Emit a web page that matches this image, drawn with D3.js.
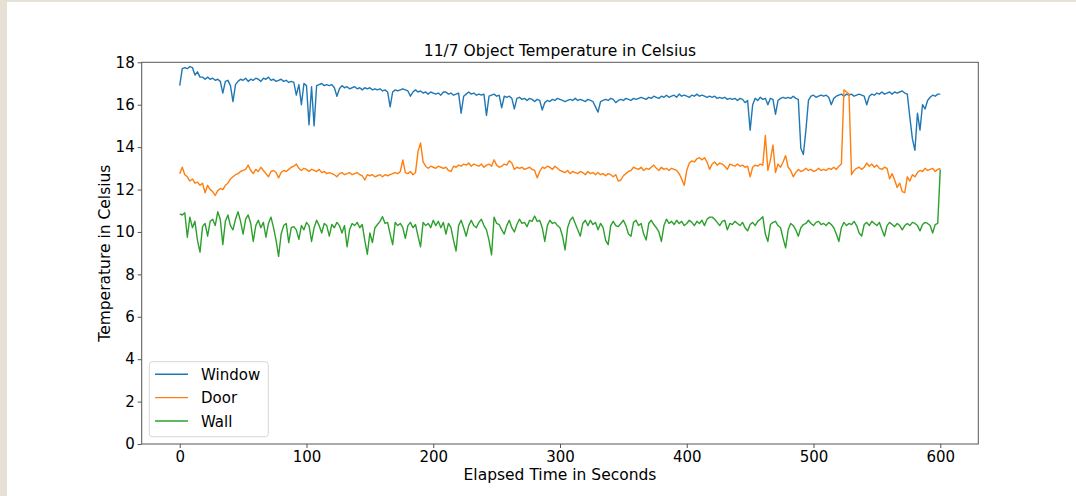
<!DOCTYPE html>
<html>
<head>
<meta charset="utf-8">
<script src="https://cdn.jsdelivr.net/npm/d3@7"></script>
<style>
  body { margin: 0; background: #fff; }
  text { font-family: "DejaVu Sans", sans-serif; fill: #000; }
</style>
</head>
<body>
<div id="chart"></div>
<script>
// sample times, one reading every 2 seconds
const seconds = d3.range(0, 601, 2);

// object temperature readings (deg C)
const windowTemp = [
  16.9, 17.7, 17.75, 17.7, 17.8, 17.75, 17.4, 17.55, 17.3, 17.3, 17.2, 17.3, 17.2, 17.25, 17.15,
  17.2, 17.1, 16.55, 17.1, 17.15, 16.9, 16.15, 16.95, 17.1, 17.2, 17.15, 17.25, 17.1, 17.2, 17.15,
  17.25, 17.2, 17.1, 17.25, 17.2, 17.3, 17.15, 17.2, 17.1, 17.15, 17.2, 17.1, 17.15, 17.05, 17.1,
  17.05, 16.45, 16.95, 16.0, 17.0, 16.9, 15.05, 16.85, 15.0, 16.9, 16.95, 17.0, 16.9, 16.95, 16.9,
  16.95, 16.8, 16.4, 16.75, 16.9, 16.8, 16.85, 16.75, 16.8, 16.85, 16.75, 16.8, 16.7, 16.8, 16.75,
  16.8, 16.7, 16.75, 16.7, 16.75, 16.65, 16.7, 16.6, 15.9, 16.6, 16.7, 16.65, 16.7, 16.75, 16.7,
  16.65, 16.4, 16.6, 16.7, 16.6, 16.65, 16.55, 16.6, 16.5, 16.6, 16.55, 16.5, 16.55, 16.45, 16.6,
  16.6, 16.5, 16.55, 16.45, 16.5, 16.55, 15.6, 16.4, 16.5, 16.6, 16.5, 16.55, 16.45, 16.5, 16.45,
  16.5, 15.5, 16.4, 16.45, 16.5, 16.4, 16.45, 15.85, 16.4, 16.35, 16.4, 16.3, 15.8, 16.3, 16.35,
  16.25, 16.3, 16.2, 16.3, 16.25, 16.15, 16.25, 16.2, 15.75, 16.1, 16.2, 16.15, 16.25, 16.2, 16.3,
  16.25, 16.2, 16.15, 16.2, 16.25, 16.2, 16.3, 16.2, 16.25, 16.2, 16.15, 16.25, 16.2, 16.15, 15.9,
  15.65, 16.15, 16.2, 16.25, 16.2, 16.3, 16.25, 16.1, 16.2, 16.25, 16.2, 16.3, 16.25, 16.2, 16.3,
  16.25, 16.3, 16.35, 16.3, 16.25, 16.35, 16.3, 16.4, 16.35, 16.3, 16.4, 16.35, 16.45, 16.35, 16.4,
  16.45, 16.35, 16.5, 16.4, 16.45, 16.4, 16.35, 16.45, 16.4, 16.5, 16.4, 16.45, 16.4, 16.35, 16.4,
  16.35, 16.4, 16.3, 16.35, 16.3, 16.35, 16.25, 16.3, 16.25, 16.3, 16.2, 16.3, 16.25, 16.1, 16.2,
  14.8, 16.0, 16.3, 16.2, 16.35, 16.25, 16.3, 16.0, 16.3, 16.25, 15.55, 16.2, 16.3, 16.35, 16.3,
  16.35, 16.3, 16.4, 16.3, 16.25, 13.95, 13.65, 14.8, 16.2, 16.4, 16.45, 16.35, 16.4, 16.45, 16.4,
  16.45, 16.35, 16.0, 16.3, 16.4, 16.45, 16.5, 16.4, 16.5, 16.45, 16.5, 16.4, 16.45, 16.5, 16.45,
  16.4, 16.0, 16.4, 16.5, 16.45, 16.55, 16.5, 16.6, 16.5, 16.55, 16.6, 16.5, 16.6, 16.55, 16.6,
  16.65, 16.55, 16.5, 15.4, 14.4, 13.85, 15.6, 14.8, 16.0, 15.8, 16.2, 16.35, 16.45, 16.4, 16.5,
  16.5
];

const doorTemp = [
  12.75, 13.05, 12.7, 12.6, 12.4, 12.5, 12.3, 12.35, 12.2, 12.3, 11.85, 12.2, 12.0, 11.9, 11.72,
  11.95, 12.05, 12.0, 12.2, 12.3, 12.5, 12.6, 12.7, 12.75, 12.85, 12.9, 12.95, 13.15, 12.9, 12.75,
  12.95, 12.85, 13.05, 12.9, 12.75, 12.6, 12.85, 12.9, 12.8, 12.55, 12.8, 12.9, 12.85, 12.95, 13.05,
  13.1, 13.2, 13.0, 12.9, 13.0, 12.95, 12.85, 12.95, 12.9, 12.85, 12.95, 12.8, 12.85, 12.75, 12.8,
  12.75, 12.7, 12.6, 12.75, 12.8, 12.7, 12.75, 12.8, 12.7, 12.75, 12.8, 12.7, 12.65, 12.45, 12.7,
  12.65, 12.7, 12.6, 12.65, 12.7, 12.6, 12.7, 12.65, 12.7, 12.75, 12.8, 12.75, 12.85, 13.4, 12.8,
  12.75, 12.85, 12.7, 12.8, 13.8, 14.2, 13.3, 13.1, 13.0, 13.1, 13.05, 13.0, 13.1, 13.05, 13.0,
  13.05, 12.9, 12.85, 13.1, 13.05, 13.15, 13.1, 13.2, 13.15, 13.25, 13.1, 13.2, 13.15, 13.1, 13.2,
  13.05, 13.15, 13.2, 13.1, 13.4, 13.15, 13.05, 13.1, 13.2, 13.15, 13.35, 13.25, 12.95, 13.05, 13.0,
  13.05, 12.95, 13.0, 13.05, 12.95, 12.9, 12.55, 12.85, 13.05, 13.0, 13.1, 13.05, 12.95, 13.1, 13.0,
  12.9, 12.85, 12.8, 12.9, 12.75, 12.85, 12.8, 12.75, 12.85, 12.8, 12.7, 12.85, 12.75, 12.8, 12.7,
  12.8, 12.7, 12.75, 12.65, 12.75, 12.7, 12.6, 12.7, 12.4, 12.45, 12.65, 12.75, 12.85, 12.9, 13.05,
  13.0, 12.95, 13.05, 12.9, 13.0, 12.95, 13.05, 13.15, 13.0, 12.9, 13.05, 12.95, 13.0, 12.9, 13.0,
  12.95, 12.9, 12.75, 12.5, 12.2, 12.9, 13.25, 13.35, 13.3, 13.45, 13.5, 13.4, 13.5, 13.3, 12.95,
  13.2, 13.3, 13.15, 13.25, 13.2, 13.1, 12.95, 13.2, 13.15, 13.1, 13.2, 13.1, 13.15, 13.05, 13.1,
  12.6, 13.05, 13.15, 13.1, 13.2, 13.15, 14.55, 12.9, 13.4, 14.1, 12.8, 13.2, 13.05, 13.3, 13.6,
  13.05, 12.9, 12.6, 12.8, 12.95, 12.85, 12.9, 13.0, 12.9, 12.95, 12.85, 12.9, 13.0, 12.9, 12.95,
  12.9, 13.0, 12.95, 13.05, 12.95, 13.1, 13.2, 16.7, 16.6, 16.5, 12.7, 12.9, 13.0, 13.05, 12.95,
  13.05, 13.25, 13.1, 13.2, 13.05, 13.15, 13.0, 12.95, 13.05, 13.0, 12.5, 12.75, 12.45, 12.1, 12.3,
  11.9, 11.85, 12.6, 12.4, 12.7, 12.6, 12.8, 12.9, 12.85, 13.0, 12.9, 12.95, 13.0, 12.85, 12.95,
  13.0
];

const wallTemp = [
  10.85, 10.8, 10.9, 9.75, 10.7, 10.2, 10.5, 9.6, 9.05, 10.25, 10.4, 9.8, 10.5, 10.6, 10.3,
  10.95, 10.6, 9.4, 10.5, 10.8, 10.3, 10.1, 10.6, 10.95, 10.5, 9.9, 10.6, 10.8, 10.4, 9.55,
  10.3, 10.55, 10.2, 10.45, 9.75, 10.4, 10.7, 10.2, 9.6, 8.85, 9.9, 10.3, 10.4, 9.5, 10.2,
  10.25, 10.1, 9.65, 10.3, 10.1, 10.45, 10.3, 9.55, 10.2, 10.55, 10.3, 9.95, 10.4, 10.3, 9.8,
  10.35, 10.2, 10.45, 10.3, 9.95, 10.3, 9.3, 10.1, 10.4, 10.3, 10.45, 10.2, 10.35, 9.6, 8.95,
  9.95, 9.5, 10.2, 10.35, 10.5, 10.72, 10.4, 10.45, 9.9, 9.4, 10.45, 10.3, 10.4, 10.2, 9.7,
  10.3, 10.45, 10.2, 10.35, 9.8, 9.3, 10.45, 10.3, 10.4, 10.2, 10.55, 10.3, 10.5, 10.2, 10.45,
  9.9, 10.4, 10.2, 9.6, 9.1, 10.3, 10.55, 10.2, 9.8, 10.3, 10.55, 10.3, 10.2, 10.45, 10.6,
  10.3, 10.1, 9.6, 8.92, 10.7, 10.4, 10.35, 10.1, 9.9, 10.3, 10.55, 10.2, 10.0, 10.35, 10.6,
  10.4, 10.45, 10.25, 10.55, 10.5, 10.75, 10.5, 10.55, 10.2, 9.55, 10.3, 10.55, 10.4, 10.45, 10.3,
  10.2, 9.8, 9.15, 10.2, 10.55, 10.7, 10.4, 10.1, 9.8, 10.4, 10.55, 10.3, 10.55, 10.35, 10.45,
  10.1, 10.4, 10.2, 9.6, 9.4, 10.3, 10.5, 10.3, 10.25, 10.4, 10.55, 10.3, 9.9, 9.8, 10.45,
  10.55, 10.3, 10.4, 9.9, 9.62, 10.4, 10.55, 10.35, 10.2, 10.0, 9.55, 10.3, 10.6, 10.4, 10.5,
  10.35, 10.55, 10.4, 10.5, 10.3, 10.4, 10.55, 10.45, 10.3, 10.5, 10.4, 10.55, 10.3, 10.6, 10.7,
  10.7, 10.6, 10.45, 10.3, 10.5, 10.55, 10.1, 10.4, 10.35, 10.5, 10.4, 10.3, 10.45, 10.2, 10.05,
  10.35, 10.45, 10.3, 10.5, 10.6, 10.72, 9.9, 9.55, 10.35, 10.45, 10.5, 10.3, 10.2, 9.7, 9.25,
  10.1, 10.4, 10.3, 10.1, 9.8, 10.2, 10.35, 10.4, 10.55, 10.4, 10.3, 10.45, 10.5, 10.35, 10.4,
  10.3, 10.45, 10.35, 10.2, 9.9, 9.55, 10.2, 10.45, 10.3, 10.4, 10.35, 10.5, 10.3, 9.95, 9.8,
  10.35, 10.45, 10.3, 10.5, 10.4, 10.3, 10.45, 10.1, 9.8, 10.3, 10.45, 10.35, 10.25, 10.4, 10.3,
  10.1, 10.3, 10.4, 10.3, 10.45, 10.4, 10.3, 10.05, 10.35, 10.45, 10.4, 10.3, 9.95, 10.35, 10.4,
  12.95
];

const seriesNames = ["Window", "Door", "Wall"];
const seriesColors = ["#1f77b4", "#ff7f0e", "#2ca02c"];
const xTicks = [0, 100, 200, 300, 400, 500, 600];
const yTicks = [0, 2, 4, 6, 8, 10, 12, 14, 16, 18];

// page setup
const width = 1076;
const height = 496;
const plot = { left: 141.7, right: 978.3, top: 62.3, bottom: 444 };
const axisColor = "#555";

const svg = d3.select("#chart")
    .append("svg")
    .attr("width", width)
    .attr("height", height);

// beige frame strips on the left and top edge
svg.append("rect").attr("x", 0).attr("y", 0).attr("width", width).attr("height", 2).attr("fill", "#e6e0d5");
svg.append("rect").attr("x", 0).attr("y", 0).attr("width", 7).attr("height", height).attr("fill", "#e6e0d5");

const x = d3.scaleLinear().domain([-30, 630]).range([plot.left, plot.right]);
const y = d3.scaleLinear().domain([0, 18]).range([plot.bottom, plot.top]);

const series = [windowTemp, doorTemp, wallTemp].map((vals, i) => ({
    name: seriesNames[i],
    color: seriesColors[i],
    values: vals.map((v, j) => ({ t: seconds[j], v: v }))
}));

// lines
const line = d3.line().x(d => x(d.t)).y(d => y(d.v));
svg.append("g")
    .selectAll("path")
    .data(series)
    .enter()
    .append("path")
    .attr("d", d => line(d.values))
    .attr("fill", "none")
    .attr("stroke", d => d.color)
    .attr("stroke-width", 1.4)
    .attr("stroke-linejoin", "round");

// frame
svg.append("rect")
    .attr("x", plot.left)
    .attr("y", plot.top)
    .attr("width", plot.right - plot.left)
    .attr("height", plot.bottom - plot.top)
    .attr("fill", "none")
    .attr("stroke", axisColor)
    .attr("stroke-width", 1);

// x axis
const xAxis = svg.append("g")
    .attr("transform", `translate(0,${plot.bottom})`)
    .call(d3.axisBottom(x).tickValues(xTicks).tickSize(4).tickPadding(3).tickSizeOuter(0));
xAxis.select(".domain").remove();
xAxis.selectAll("line").attr("stroke", axisColor);
xAxis.selectAll("text").attr("font-size", "15px").attr("font-family", "DejaVu Sans").attr("fill", "#000");

// y axis
const yAxis = svg.append("g")
    .attr("transform", `translate(${plot.left},0)`)
    .call(d3.axisLeft(y).tickValues(yTicks).tickSize(4).tickPadding(3).tickSizeOuter(0));
yAxis.select(".domain").remove();
yAxis.selectAll("line").attr("stroke", axisColor);
yAxis.selectAll("text").attr("font-size", "15px").attr("font-family", "DejaVu Sans").attr("fill", "#000");

// title
svg.append("text")
    .attr("x", (plot.left + plot.right) / 2)
    .attr("y", 56)
    .attr("text-anchor", "middle")
    .attr("font-size", "15.5px")
    .text("11/7 Object Temperature in Celsius");

// x axis label
svg.append("text")
    .attr("x", (plot.left + plot.right) / 2)
    .attr("y", 480)
    .attr("text-anchor", "middle")
    .attr("font-size", "15.5px")
    .text("Elapsed Time in Seconds");

// y axis label
svg.append("text")
    .attr("transform", "rotate(-90)")
    .attr("x", -(plot.top + plot.bottom) / 2)
    .attr("y", 109.5)
    .attr("text-anchor", "middle")
    .attr("font-size", "15.5px")
    .text("Temperature in Celsius");

// legend
const legend = svg.append("g");
legend.append("rect")
    .attr("x", 149.3)
    .attr("y", 361.7)
    .attr("width", 119)
    .attr("height", 75)
    .attr("rx", 3)
    .attr("fill", "#fff")
    .attr("fill-opacity", 0.8)
    .attr("stroke", "#d6d6d6")
    .attr("stroke-width", 1);

const legendRows = legend.selectAll("g.row")
    .data(series)
    .enter()
    .append("g")
    .attr("class", "row")
    .attr("transform", (d, i) => `translate(0,${374.3 + i * 23.35})`);

legendRows.append("line")
    .attr("x1", 155)
    .attr("x2", 188)
    .attr("y1", 0)
    .attr("y2", 0)
    .attr("stroke", d => d.color)
    .attr("stroke-width", 1.4);

legendRows.append("text")
    .attr("x", 201)
    .attr("y", 5.5)
    .attr("font-size", "15px")
    .text(d => d.name);
</script>
</body>
</html>
